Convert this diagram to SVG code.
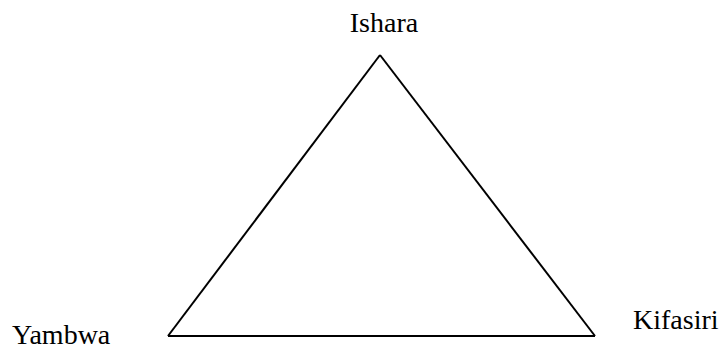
<svg xmlns="http://www.w3.org/2000/svg" width="724" height="349" viewBox="0 0 724 349">
<style>
.lbl{font-family:"Liberation Serif","Times New Roman",serif;font-size:28px;fill:#000}
.edge{stroke:#000;stroke-width:2;fill:none}
</style>
<rect width="724" height="349" fill="#fff"/>
<g id="connectors">
<path class="edge" d="M380,55 L168,336"/>
<path class="edge" d="M380,55 L595,336"/>
<path class="edge" d="M168,336 L595,336"/>
</g>
<g id="ishara"><text class="lbl" x="384" y="32" text-anchor="middle">Ishara</text></g>
<g id="yambwa"><text class="lbl" x="12" y="344">Yambwa</text></g>
<g id="kifasiri"><text class="lbl" x="633" y="329">Kifasiri</text></g>
</svg>
